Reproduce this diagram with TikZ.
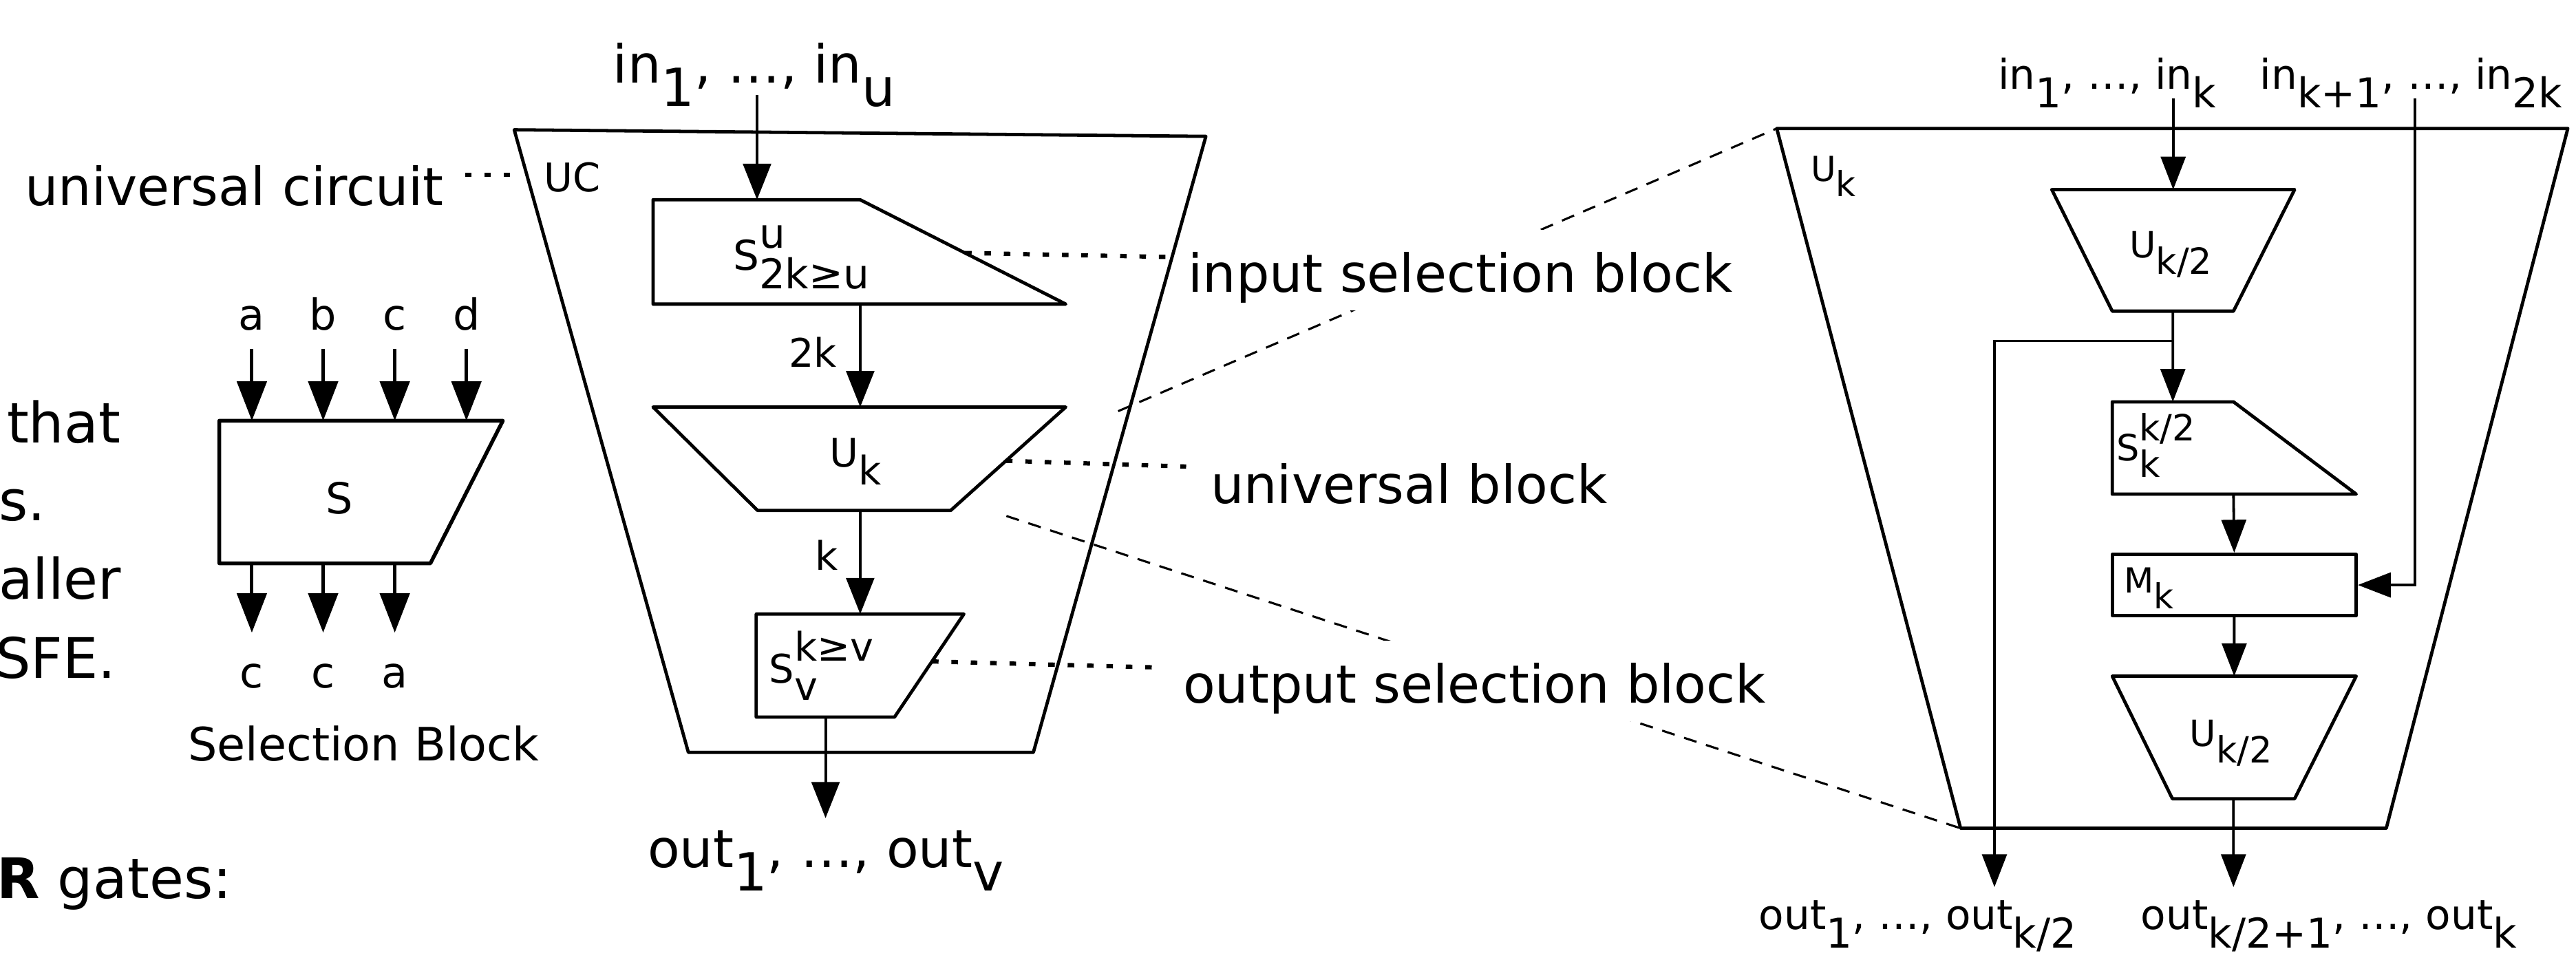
\documentclass[tikz,border=0pt]{standalone}
\usepackage{fontspec}
\setmainfont{DejaVu Sans}
\usepackage{tikz}
\usetikzlibrary{arrows.meta}
\usetikzlibrary{calc}

\newcommand{\fsz}[1]{\fontsize{#1}{#1}\selectfont}
\newcommand{\lowsub}[1]{\raisebox{-0.45em}{#1}}
\newcommand{\supsub}[2]{\rlap{\raisebox{0.55em}{#1}}\raisebox{-0.45em}{#2}}

\begin{document}
\begin{tikzpicture}[x=1pt,y=-1pt,
  outline/.style={line width=2pt,line join=round},
  arr/.style={line width=1.7pt,-{Triangle[length=22pt,width=17pt]}},
  sarr/.style={line width=2.1pt,-{Triangle[length=24pt,width=18pt]}},
  rarr/.style={line width=1.6pt,-{Triangle[length=20pt,width=15pt]}},
  dots/.style={line width=2.6pt,dash pattern=on 4pt off 7.8pt},
  zoomline/.style={line width=1.3pt,dash pattern=on 8pt off 6pt},
  txt/.style={inner sep=0pt,anchor=base west},
  topsig/.style={inner sep=0pt,anchor=base,text depth=11pt,font=\fsz{26pt}},
  botsig/.style={inner sep=0pt,anchor=base,text height=33.5pt,font=\fsz{26pt}},
  callout/.style={fill=white,inner sep=2pt,text height=36pt,text depth=9pt,anchor=base west,font=\fsz{32pt}}]
\useasboundingbox (0,0) rectangle (1568,584);

% text running in from the slide on the left
\draw (4,269.5) node[txt,font=\fsz{34pt}] (frag1) {that};
\draw (-1,317) node[txt,font=\fsz{34pt}] (frag2) {s.};
\draw (-1,364.5) node[txt,font=\fsz{34pt}] (frag3) {aller};
\draw (-3,413) node[txt,font=\fsz{34pt}] (frag4) {SFE.};
\draw (-2,547) node[txt,font=\fsz{34pt}] (frag5) {\textbf{R} gates:};

% selection block
\node[shape=coordinate] (sb1) at (133.5,256.1) {};
\node[shape=coordinate] (sb2) at (306.1,256.1) {};
\node[shape=coordinate] (sb3) at (262,342.9) {};
\node[shape=coordinate] (sb4) at (133.5,342.9) {};
\draw[outline,line width=2.3pt] (sb1) -- (sb2) -- (sb3) -- (sb4) -- cycle;
\draw (206.7,312.7) node[anchor=base,inner sep=0pt,font=\fsz{26pt}] (sbname) {S};
\draw (153.3,201) node[topsig] (ia) {a};
\draw (196.7,201) node[topsig] (ib) {b};
\draw (240.3,201) node[topsig] (ic) {c};
\draw (283.9,201) node[topsig] (id) {d};
\draw[sarr] (ia.south) -- (ia.south |- sb1);
\draw[sarr] (ib.south) -- (ib.south |- sb1);
\draw[sarr] (ic.south) -- (ic.south |- sb1);
\draw[sarr] (id.south) -- (id.south |- sb1);
\draw (153.3,418.8) node[botsig] (oa) {c};
\draw (196.7,418.8) node[botsig] (ob) {c};
\draw (240.3,418.8) node[botsig] (oc) {a};
\draw[sarr] (oa.north |- sb4) -- (oa.north);
\draw[sarr] (ob.north |- sb4) -- (ob.north);
\draw[sarr] (oc.north |- sb4) -- (oc.north);
\draw (221.2,463) node[anchor=base,inner sep=0pt,font=\fsz{28pt}] (sbtitle) {Selection Block};

% universal circuit UC
\draw (15,125) node[txt,font=\fsz{32pt}] (uctext) {universal circuit};
\node[shape=coordinate] (ucdot1) at (283,106.5) {};
\node[shape=coordinate] (ucdot2) at (311,106.5) {};
\draw[dots] (ucdot1) -- (ucdot2);

\node[shape=coordinate] (uc1) at (313,79) {};
\node[shape=coordinate] (uc2) at (734,83) {};
\node[shape=coordinate] (uc3) at (629,458) {};
\node[shape=coordinate] (uc4) at (419,458) {};
\draw[outline] (uc1) -- (uc2) -- (uc3) -- (uc4) -- cycle;
\draw (331,116.6) node[txt,font=\fsz{24pt}] (ucname) {UC};
\draw (373,50.5) node[txt,font=\fsz{32pt}] (ucin) {in\lowsub{1}, …, in\lowsub{u}};

\node[shape=coordinate] (si1) at (397.5,121.6) {};
\node[shape=coordinate] (si2) at (523.6,121.6) {};
\node[shape=coordinate] (si3) at (648.7,185.1) {};
\node[shape=coordinate] (si4) at (397.5,185.1) {};
\draw[outline] (si1) -- (si2) -- (si3) -- (si4) -- cycle;
\draw (446,164.6) node[txt,font=\fsz{25pt}] (siname) {S\supsub{u}{2k≥u}};

\node[shape=coordinate] (uk1) at (397.5,247.8) {};
\node[shape=coordinate] (uk2) at (648.7,247.8) {};
\node[shape=coordinate] (uk3) at (578.7,310.7) {};
\node[shape=coordinate] (uk4) at (461.1,310.7) {};
\draw[outline] (uk1) -- (uk2) -- (uk3) -- (uk4) -- cycle;
\draw (505,284.2) node[txt,font=\fsz{24pt}] (ukname) {U\lowsub{k}};

\node[shape=coordinate] (so1) at (460.3,373.8) {};
\node[shape=coordinate] (so2) at (586.7,373.8) {};
\node[shape=coordinate] (so3) at (544.5,436.5) {};
\node[shape=coordinate] (so4) at (460.3,436.5) {};
\draw[outline] (so1) -- (so2) -- (so3) -- (so4) -- cycle;
\draw (468,415.6) node[txt,font=\fsz{24pt}] (soname) {S\supsub{k≥v}{v}};

\node[shape=coordinate] (inu) at (460.8,58) {};
\node[shape=coordinate] (outv) at (502.5,498) {};
\draw[arr] (inu) -- (inu |- si1);
\draw[arr] (si2 |- si4) -- (si2 |- uk1);
\draw[arr] (si2 |- uk4) -- (si2 |- so1);
\draw[arr] (outv |- so4) -- (outv);
\draw (480,223.5) node[txt,font=\fsz{24pt}] (twok) {2k};
\draw (496,347) node[txt,font=\fsz{24pt}] (onek) {k};
\draw (394,528) node[txt,font=\fsz{32pt}] (ucout) {out\lowsub{1}, …, out\lowsub{v}};

% dotted pointers to the callouts
\node[shape=coordinate] (isdot) at (710,156.4) {};
\node[shape=coordinate] (ubdot) at (722,284) {};
\node[shape=coordinate] (osdot) at (708.5,406.4) {};
\draw[dots] ($(si2)!0.51!(si3)$) -- (isdot);
\draw[dots] ($(uk2)!0.52!(uk3)$) -- (ubdot);
\draw[dots] ($(so2)!0.46!(so3)$) -- (osdot);

% U_k expanded
\node[shape=coordinate] (rk1) at (1081.5,78.2) {};
\node[shape=coordinate] (rk2) at (1563,78.2) {};
\node[shape=coordinate] (rk3) at (1452.5,504.2) {};
\node[shape=coordinate] (rk4) at (1193.4,504.2) {};
\draw[outline] (rk1) -- (rk2) -- (rk3) -- (rk4) -- cycle;
\draw (1102,110.3) node[txt,font=\fsz{21pt}] (rkname) {U\lowsub{k}};
\draw (1216,54.2) node[txt,font=\fsz{25pt}] (rin1) {in\lowsub{1}, …, in\lowsub{k}};
\draw (1375.4,54.2) node[txt,font=\fsz{25pt}] (rin2) {in\lowsub{k+1}, …, in\lowsub{2k}};

\node[shape=coordinate] (ua1) at (1248.9,115.4) {};
\node[shape=coordinate] (ua2) at (1396.7,115.4) {};
\node[shape=coordinate] (ua3) at (1359.5,189.4) {};
\node[shape=coordinate] (ua4) at (1285.7,189.4) {};
\draw[outline] (ua1) -- (ua2) -- (ua3) -- (ua4) -- cycle;
\draw (1296,157) node[txt,font=\fsz{22pt}] (uaname) {U\lowsub{k/2}};

\node[shape=coordinate] (ss1) at (1285.7,244.6) {};
\node[shape=coordinate] (ss2) at (1359.5,244.6) {};
\node[shape=coordinate] (ss3) at (1434.2,300.8) {};
\node[shape=coordinate] (ss4) at (1285.7,300.8) {};
\draw[outline] (ss1) -- (ss2) -- (ss3) -- (ss4) -- cycle;
\draw (1288,280.5) node[txt,font=\fsz{22pt}] (ssname) {S\supsub{k/2}{k}};

\draw (1359.95,356.1) node[draw,outline,minimum width=148.5pt,minimum height=37.4pt,inner sep=0pt] (mk) {};
\draw (1292.7,360.9) node[txt,font=\fsz{21pt}] (mkname) {M\lowsub{k}};

\node[shape=coordinate] (ub1) at (1285.7,411.6) {};
\node[shape=coordinate] (ub2) at (1434.2,411.6) {};
\node[shape=coordinate] (ub3) at (1396.7,486.2) {};
\node[shape=coordinate] (ub4) at (1322.3,486.2) {};
\draw[outline] (ub1) -- (ub2) -- (ub3) -- (ub4) -- cycle;
\draw (1332.6,454.4) node[txt,font=\fsz{22pt}] (ubname) {U\lowsub{k/2}};

\node[shape=coordinate] (fromk) at (1322.8,59.8) {};
\node[shape=coordinate] (fromk2) at (1470,59.8) {};
\node[shape=coordinate] (split) at (1322.6,207.6) {};
\node[shape=coordinate] (outa) at (1214,540) {};
\node[shape=coordinate] (outb) at (1359.5,540) {};
\draw[rarr] (fromk) -- (fromk |- ua1);
\draw[rarr] ($(ua3)!0.5!(ua4)$) -- (split |- ss1);
\draw[rarr] (split) -| (outa);
\draw[rarr] (ss2 |- ss4) -- (mk.north);
\draw[rarr] (mk.south) -- ($(ub1)!0.5!(ub2)$);
\draw[rarr] (fromk2) |- (mk.east);
\draw[rarr] ($(ub3)!0.5!(ub4)$) -- (outb);
\draw (1070.5,565.8) node[txt,font=\fsz{25pt}] (rout1) {out\lowsub{1}, …, out\lowsub{k/2}};
\draw (1303,565.8) node[txt,font=\fsz{25pt}] (rout2) {out\lowsub{k/2+1}, …, out\lowsub{k}};

% zoom lines from U_k to its expansion
\node[shape=coordinate] (za) at (680.6,250.3) {};
\node[shape=coordinate] (zb) at (612.6,314.1) {};
\draw[zoomline] (za) -- (rk1);
\draw[zoomline] (zb) -- (rk4);

% callouts
\draw (721,178) node[callout] (insel) {input selection block};
\draw (734.7,306.4) node[callout] (univ) {universal block};
\draw (718,428) node[callout] (outsel) {output selection block};
\end{tikzpicture}
\end{document}
